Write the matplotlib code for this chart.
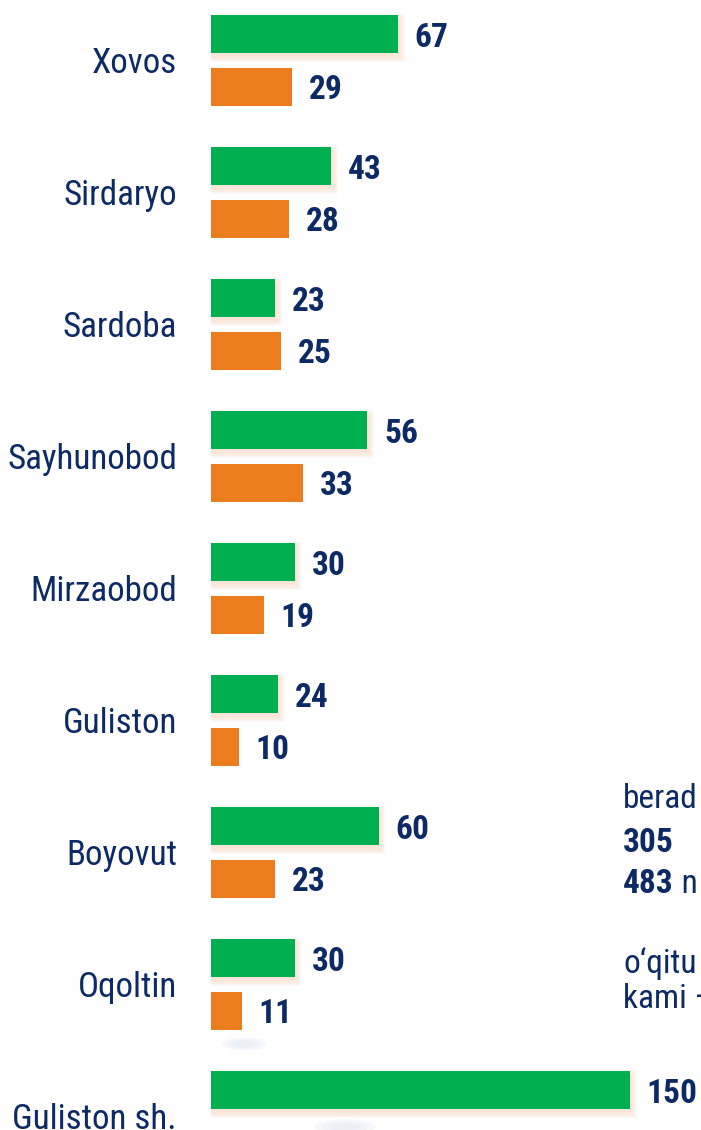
import matplotlib
matplotlib.use("Agg")
import matplotlib.pyplot as plt
from matplotlib import font_manager as fm
from matplotlib.patches import Ellipse

# --- data ---
districts = ["Xovos", "Sirdaryo", "Sardoba", "Sayhunobod", "Mirzaobod",
             "Guliston", "Boyovut", "Oqoltin", "Guliston sh."]
green_vals = [67, 43, 23, 56, 30, 24, 60, 30, 150]
orange_vals = [29, 28, 25, 33, 19, 10, 23, 11, None]   # last one is cut off below the frame

# text block cut off at the right edge
side_lines = ["berad", "305", "483", "o\u2018qitu", "kami \u2013"]
side_bold = [False, True, True, False, False]
side_tail = {2: " n"}

GREEN = "#00b050"
ORANGE = "#eb7d1f"
NAVY = "#0e2a64"

# pick a narrow face if one is installed
avail = {f.name for f in fm.fontManager.ttflist}
family, lab_size, num_size = "Roboto", 22.5, 21.5
for name, ls, ns in [("Roboto Condensed", 25.2, 24), ("Liberation Sans Narrow", 25.5, 24.5)]:
    if name in avail:
        family, lab_size, num_size = name, ls, ns
        break
plt.rcParams["font.family"] = [family, "DejaVu Sans"]

W, H = 701, 1130
fig = plt.figure(figsize=(W / 100, H / 100), dpi=100)
fig.patch.set_facecolor("white")

px_per_unit = 2.793
x0 = 211
ax = fig.add_axes([x0 / W, 0, (W - x0) / W, 1])
ax.set_xlim(0, (W - x0) / px_per_unit)
top = -60.5 / 132
bot = (H - 60.5) / 132
ax.set_ylim(bot, top)
ax.axis("off")

off = 0.2
bh = 0.29

for i, (g, o) in enumerate(zip(green_vals, orange_vals)):
    # soft shadow under the green bars
    for k in range(5):
        ax.barh(i - off + 0.03, g + 0.8 + k * 0.4, height=bh + k * 0.02,
                color="#f2a877", alpha=0.06, lw=0, zorder=1)
    ax.barh(i - off, g, height=bh, color=GREEN, lw=0, zorder=3)
    ax.annotate(str(g), (g, i - off), xytext=(12, -9), textcoords="offset points",
                ha="left", va="baseline", fontsize=num_size, fontweight="bold",
                color=NAVY, zorder=4)
    if o is not None:
        ax.barh(i + off, o, height=bh, color=ORANGE, lw=0, zorder=3)
        ax.annotate(str(o), (o, i + off), xytext=(12, -9), textcoords="offset points",
                    ha="left", va="baseline", fontsize=num_size, fontweight="bold",
                    color=NAVY, zorder=4)
    ax.annotate(districts[i], (0, i), xytext=(-24.5, -8.8), textcoords="offset points",
                ha="right", va="baseline", fontsize=lab_size, color=NAVY,
                annotation_clip=False)

# faint bluish smudges from the background
for (ex, ey, ew, eh) in [(12, 7.45, 16, 0.10), (30, 7.72, 24, 0.12), (48, 8.08, 22, 0.12)]:
    for k in range(3):
        ax.add_patch(Ellipse((ex, ey), ew * (1 - 0.25 * k), eh * (1 - 0.25 * k),
                             color="#e6ecf5", alpha=0.35, lw=0, zorder=0))

side_base = [808, 852, 893, 973, 1008]
for j, (txt, b, yb) in enumerate(zip(side_lines, side_bold, side_base)):
    t = fig.text(623 / W, 1 - yb / H, txt, ha="left", va="baseline",
                 fontsize=num_size, fontweight=("bold" if b else "normal"), color=NAVY)
    if j in side_tail:
        fig.canvas.draw()
        bb = t.get_window_extent()
        fig.text(bb.x1 / W, 1 - yb / H, side_tail[j], ha="left", va="baseline",
                 fontsize=num_size, color=NAVY)

fig.savefig("out.png", dpi=100)
